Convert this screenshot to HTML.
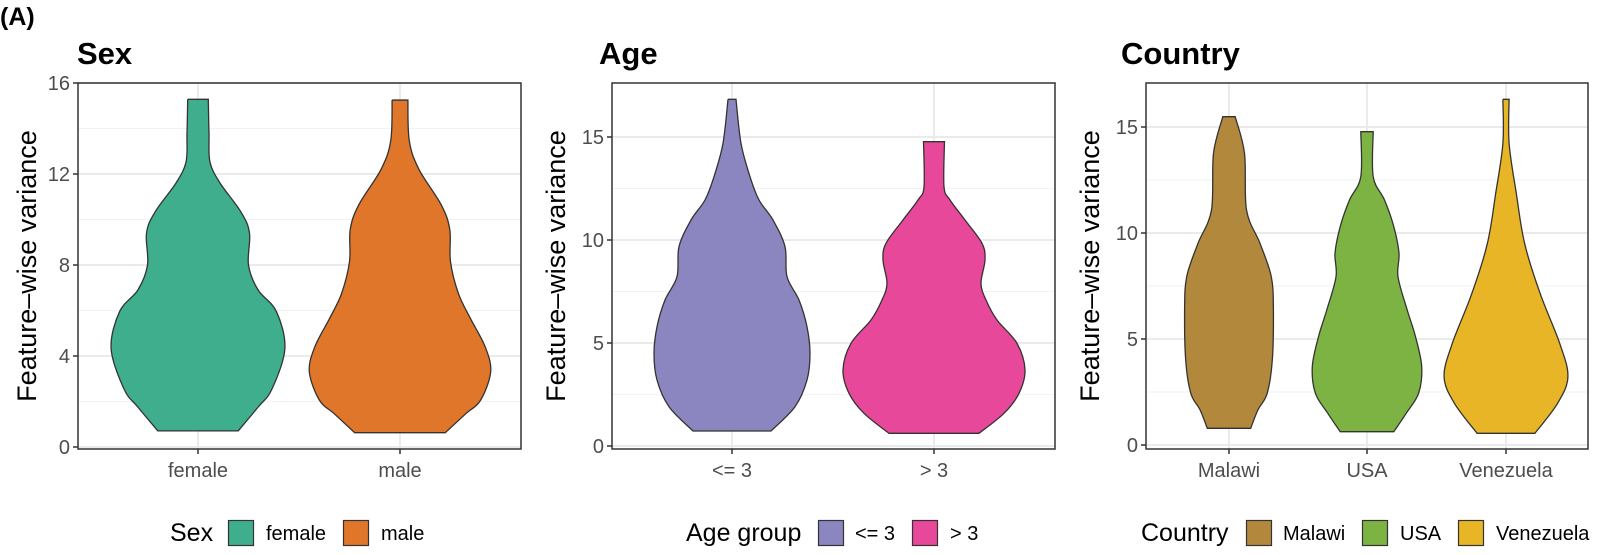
<!DOCTYPE html>
<html><head><meta charset="utf-8"><style>
html,body{margin:0;padding:0;background:#fff;}
svg{display:block;font-family:"Liberation Sans",sans-serif;}
</style></head><body>
<svg id="s" width="1600" height="555" xmlns="http://www.w3.org/2000/svg">
<text x="0" y="25" font-size="25" font-weight="bold">(A)</text>
<text x="77" y="64" font-size="31" font-weight="bold">Sex</text>
<text x="599" y="64" font-size="31" font-weight="bold">Age</text>
<text x="1121" y="64" font-size="31" font-weight="bold">Country</text>
<g id="g"></g>
<text transform="translate(36,266) rotate(-90)" text-anchor="middle" font-size="27" fill="#000">Feature–wise variance</text>
<text transform="translate(565,266) rotate(-90)" text-anchor="middle" font-size="27" fill="#000">Feature–wise variance</text>
<text transform="translate(1099,266) rotate(-90)" text-anchor="middle" font-size="27" fill="#000">Feature–wise variance</text>
<g font-size="20" fill="#4d4d4d" text-anchor="middle">
<text x="198" y="477">female</text><text x="400" y="477">male</text>
<text x="732" y="477">&lt;= 3</text><text x="934" y="477">&gt; 3</text>
<text x="1229" y="477">Malawi</text><text x="1367" y="477">USA</text><text x="1506" y="477">Venezuela</text>
</g>
<g font-size="20" fill="#000">
<text x="170" y="541" font-size="25">Sex</text>
<rect x="228.5" y="520.5" width="25" height="25" fill="#3fae8c" stroke="#333" stroke-width="1.2"/>
<text x="266" y="540">female</text>
<rect x="343.5" y="520.5" width="25" height="25" fill="#e0762a" stroke="#333" stroke-width="1.2"/>
<text x="381" y="540">male</text>

<text x="686" y="541" font-size="25">Age group</text>
<rect x="818.5" y="520.5" width="25" height="25" fill="#8b85c0" stroke="#333" stroke-width="1.2"/>
<text x="855" y="540">&lt;= 3</text>
<rect x="912.5" y="520.5" width="25" height="25" fill="#e8489a" stroke="#333" stroke-width="1.2"/>
<text x="950" y="540">&gt; 3</text>

<text x="1141" y="541" font-size="25">Country</text>
<rect x="1246.5" y="520.5" width="25" height="25" fill="#b2893c" stroke="#333" stroke-width="1.2"/>
<text x="1283" y="540">Malawi</text>
<rect x="1362.5" y="520.5" width="25" height="25" fill="#7cb342" stroke="#333" stroke-width="1.2"/>
<text x="1400" y="540">USA</text>
<rect x="1458.5" y="520.5" width="25" height="25" fill="#e8b526" stroke="#333" stroke-width="1.2"/>
<text x="1496" y="540">Venezuela</text>
</g>
</svg>
<script>
var g=document.getElementById('g');var NS="http://www.w3.org/2000/svg";
function el(t,a,txt){var e=document.createElementNS(NS,t);for(var k in a)e.setAttribute(k,a[k]);if(txt!==undefined)e.textContent=txt;g.appendChild(e);return e;}
function crPath(pts){
 var s="";for(var i=0;i<pts.length-1;i++){var p0=pts[i-1]||pts[i],p1=pts[i],p2=pts[i+1],p3=pts[i+2]||p2;
 var c1=[p1[0]+(p2[0]-p0[0])/6,p1[1]+(p2[1]-p0[1])/6],c2=[p2[0]-(p3[0]-p1[0])/6,p2[1]-(p3[1]-p1[1])/6];
 s+=" C"+c1[0].toFixed(1)+","+c1[1].toFixed(1)+" "+c2[0].toFixed(1)+","+c2[1].toFixed(1)+" "+p2[0].toFixed(1)+","+p2[1].toFixed(1);}return s;}
function violin(cx,prof,fill){
 var R=prof.map(function(p){return [cx+p[1],p[0]];});
 var L=prof.slice().reverse().map(function(p){return [cx-p[1],p[0]];});
 var d="M"+(cx-prof[0][1])+","+prof[0][0]+" L"+R[0][0]+","+R[0][1]+crPath(R)+" L"+L[0][0]+","+L[0][1]+crPath(L)+" Z";
 el('path',{d:d,fill:fill,stroke:"#333",'stroke-width':1.3});}
function panel(x0,x1,y0,y1,y0v,ppu,majors,minors,centers){
 el('rect',{x:x0,y:y0,width:x1-x0,height:y1-y0,fill:"#fff"});
 minors.forEach(function(v){var y=y0v-v*ppu;el('line',{x1:x0,x2:x1,y1:y,y2:y,stroke:"#f2f2f2",'stroke-width':1});});
 majors.forEach(function(v){var y=y0v-v*ppu;el('line',{x1:x0,x2:x1,y1:y,y2:y,stroke:"#ebebeb",'stroke-width':2});});
 centers.forEach(function(c){el('line',{x1:c,x2:c,y1:y0,y2:y1,stroke:"#ebebeb",'stroke-width':2});});
}
function frame(x0,x1,y0,y1,y0v,ppu,majors,centers){
 el('rect',{x:x0,y:y0,width:x1-x0,height:y1-y0,fill:"none",stroke:"#333",'stroke-width':1.5});
 majors.forEach(function(v){var y=y0v-v*ppu;el('line',{x1:x0-5,x2:x0,y1:y,y2:y,stroke:"#333",'stroke-width':1.5});
  el('text',{x:x0-8,y:y+7,'text-anchor':'end','font-size':20,fill:'#4d4d4d'},String(v));});
 centers.forEach(function(c){el('line',{x1:c,x2:c,y1:y1,y2:y1+5,stroke:"#333",'stroke-width':1.5});});
}
var p1y=function(zy){return 83+(zy-237)*0.355;},k1=0.3434;
panel(78,521,83,449,447,22.75,[0,4,8,12,16],[2,6,10,14],[198,400]);
violin(198,[[283,30],[380,32],[460,35],[520,65],[600,125],[660,150],[750,147],[820,175],[880,228],[985,253],[1100,215],[1150,175],[1217,117]].map(function(p){return [p1y(p[0]),p[1]*k1];}),"#3fae8c");
violin(400,[[285,23],[400,27],[480,55],[580,120],[650,145],[740,147],[830,170],[900,205],[980,248],[1050,264],[1130,235],[1170,190],[1222,132]].map(function(p){return [p1y(p[0]),p[1]*k1];}),"#e0762a");
frame(78,521,83,449,447,22.75,[0,4,8,12,16],[198,400]);
var p2y=function(zy){return 60+zy/3;};
panel(612,1055,83,449,446,20.6,[0,5,10,15],[2.5,7.5,12.5],[732,934]);
violin(732,[[118,4],[250,9],[350,18],[420,27],[480,41],[560,53],[650,55],[720,67],[800,75],[880,78],[960,75],[1040,63],[1113,39]].map(function(p){return [p2y(p[0]),p[1]];}),"#8b85c0");
violin(934,[[245,10.5],[380,10],[420,16],[480,31],[550,48],[600,51],[670,47],[720,52],[780,63],[850,83],[930,91],[1000,85],[1060,70],[1120,45]].map(function(p){return [p2y(p[0]),p[1]];}),"#e8489a");
frame(612,1055,83,449,446,20.6,[0,5,10,15],[732,934]);
var k3=1.032;
panel(1146,1588,83,449,445,21.2,[0,5,10,15],[2.5,7.5,12.5],[1229,1367,1506]);
violin(1229,[[170,6],[280,15],[450,17],[550,30],[650,41],[750,43],[900,42],[1000,37],[1050,28],[1105,21]].map(function(p){return [p2y(p[0]),p[1]*k3];}),"#b2893c");
violin(1367,[[215,6],[350,6],[420,17],[500,26],[580,31],[650,30],[750,39],[830,47],[920,53],[1000,50],[1060,38],[1115,26]].map(function(p){return [p2y(p[0]),p[1]*k3];}),"#7cb342");
violin(1506,[[118,3],[250,3],[400,10],[550,18],[700,33],[850,52],[950,60],[1030,50],[1120,28]].map(function(p){return [p2y(p[0]),p[1]*k3];}),"#e8b526");
frame(1146,1588,83,449,445,21.2,[0,5,10,15],[1229,1367,1506]);
</script>
</body></html>
